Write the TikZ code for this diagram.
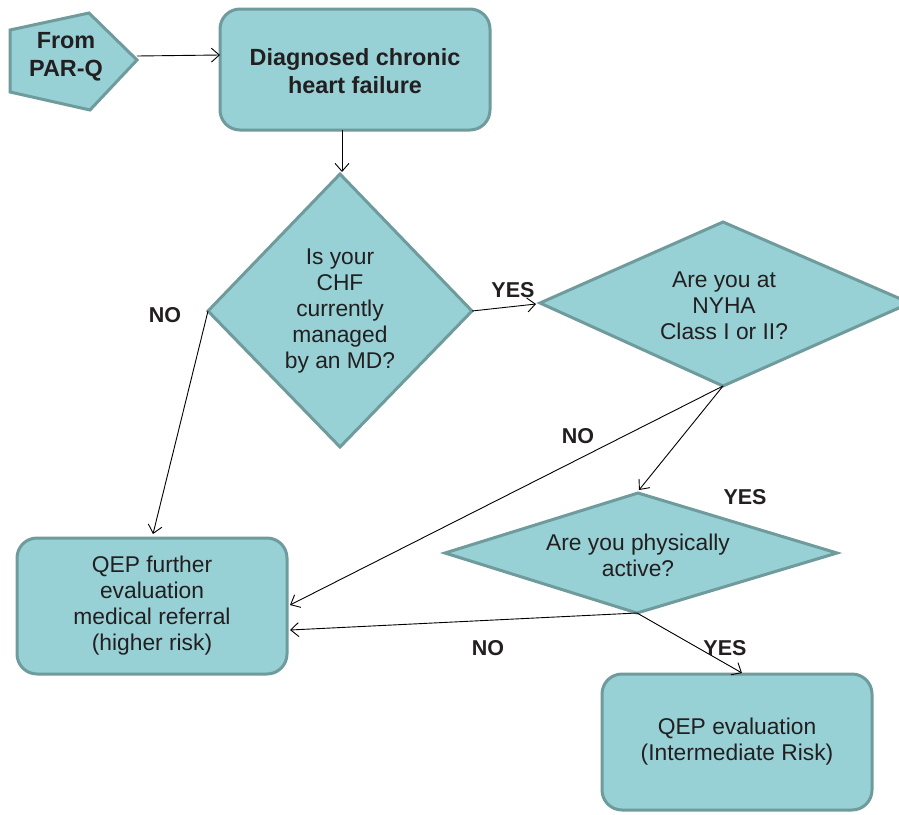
\documentclass[tikz,border=0pt]{standalone}
\usepackage{fontspec}
\setmainfont{Liberation Sans}
\usetikzlibrary{arrows.meta}
\definecolor{boxfill}{HTML}{97D1D5}
\definecolor{boxline}{HTML}{6F9B9C}
\definecolor{txt}{HTML}{231F20}
\tikzset{
  shp/.style={fill=boxfill,draw=boxline,line width=3pt,line join=miter},
  rbox/.style={shp,rounded corners=20pt},
  lbl/.style={text=txt,align=center,font=\fontsize{22.8}{26}\selectfont},
  blbl/.style={text=txt,align=center,font=\fontsize{23.4}{28}\selectfont\bfseries},
  yn/.style={text=txt,font=\fontsize{21.5}{24}\selectfont\bfseries},
  conn/.style={draw=black,line width=0.9pt,-{Straight Barb[length=8pt,width=14pt,line width=0.9pt]}},
  plain/.style={draw=black,line width=0.9pt}
}
\begin{document}
\begin{tikzpicture}[x=1pt,y=-1pt]
\useasboundingbox (0,0) rectangle (899,814);
% pentagon
\draw[shp] (10,30) -- (89,13) -- (137,60) -- (90,110) -- (10,92) -- cycle;
\node[blbl] (parq) at (66,57) {From\\PAR-Q};
\coordinate (parqR) at (137,56);
% box 1
\draw[rbox] (220,9) rectangle (490,130);
\node[blbl] (chf) at (355,71) {Diagnosed chronic\\heart failure};
\coordinate (chfB) at (342,130);
% diamond 1
\coordinate (d1T) at (340,174);
\coordinate (d1L) at (208,311);
\coordinate (d1R) at (472,311);
\coordinate (d1B) at (340,447);
\draw[shp] (d1T) -- (d1R) -- (d1B) -- (d1L) -- cycle;
\node[lbl] (q1) at (340,311) {Is your\\CHF\\currently\\managed\\by an MD?};
% diamond 2
\coordinate (d2T) at (723,222);
\coordinate (d2L) at (540,303);
\coordinate (d2R) at (910,303);
\coordinate (d2B) at (723,386);
\draw[shp] (d2T) -- (d2R) -- (d2B) -- (d2L) -- cycle;
\node[lbl] (q2) at (724,306) {Are you at\\NYHA\\Class I or II?};
% diamond 3
\coordinate (d3T) at (638,493);
\coordinate (d3L) at (445,553);
\coordinate (d3R) at (837,553);
\coordinate (d3B) at (637,613);
\draw[shp] (d3T) -- (d3R) -- (d3B) -- (d3L) -- cycle;
\node[lbl] (q3) at (638,555) {Are you physically\\active?};
% box 2
\draw[rbox] (17,538) rectangle (287,674);
\node[lbl] (qep1) at (152,606) {QEP further\\evaluation\\medical referral\\(higher risk)};
% box 3
\draw[rbox] (602,674) rectangle (872,810);
\node[lbl] (qep2) at (737,742) {QEP evaluation\\(Intermediate Risk)};
% connector endpoints
\coordinate (chfL) at (220,55);
\coordinate (d1Tin) at (342,172);
\coordinate (d2Lin) at (536,304);
\coordinate (b2T) at (153,534);
\coordinate (b2R1) at (290,605);
\coordinate (b2R2) at (290,630);
\coordinate (d3Tin) at (639,490);
\coordinate (b3T) at (742,673);
% connectors
\draw[conn] (parqR) -- (chfL);
\draw[conn] (chfB) -- (d1Tin);
\draw[conn] (d1R) -- (d2Lin);
\draw[conn] (d1L) -- (b2T);
\draw[conn] (d2B) -- (b2R1);
\draw[conn] (d2B) -- (d3Tin);
\draw[conn] (d3B) -- (b2R2);
\draw[conn] (d3B) -- (b3T);
% labels
\node[yn] (yes1) at (513,290) {YES};
\node[yn] (no1) at (165,315) {NO};
\node[yn] (no2) at (578,436) {NO};
\node[yn] (yes2) at (745,497) {YES};
\node[yn] (no3) at (488,648) {NO};
\node[yn] (yes3) at (725,648) {YES};
\end{tikzpicture}
\end{document}
